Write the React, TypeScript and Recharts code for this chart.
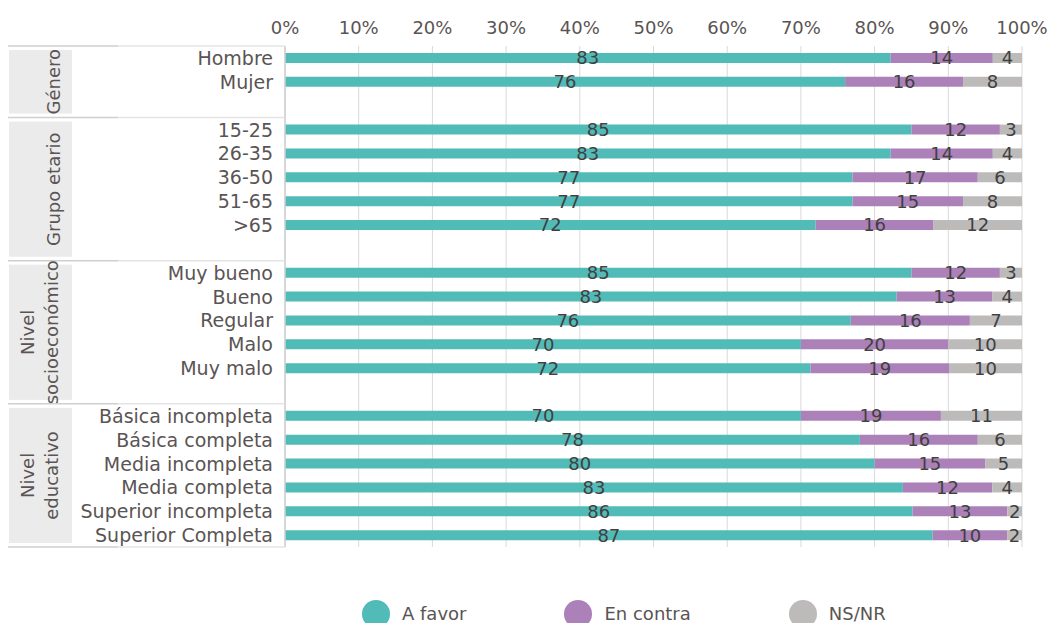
import React from 'react';
import { BarChart, Bar, XAxis, YAxis, CartesianGrid, LabelList, Legend } from 'recharts';

const categories = [
  'Hombre', 'Mujer',
  '15-25', '26-35', '36-50', '51-65', '>65',
  'Muy bueno', 'Bueno', 'Regular', 'Malo', 'Muy malo',
  'Básica incompleta', 'Básica completa', 'Media incompleta', 'Media completa', 'Superior incompleta', 'Superior Completa',
];
const aFavor = [83, 76, 85, 83, 77, 77, 72, 85, 83, 76, 70, 72, 70, 78, 80, 83, 86, 87];
const enContra = [14, 16, 12, 14, 17, 15, 16, 12, 13, 16, 20, 19, 19, 16, 15, 12, 13, 10];
const nsnr = [4, 8, 3, 4, 6, 8, 12, 3, 4, 7, 10, 10, 11, 6, 5, 4, 2, 2];
const groupLabels = [['Género'], ['Grupo etario'], ['Nivel', 'socioeconómico'], ['Nivel', 'educativo']];
const groupSizes = [2, 5, 5, 6];
const xTicks = [0, 0.1, 0.2, 0.3, 0.4, 0.5, 0.6, 0.7, 0.8, 0.9, 1];
const seriesNames = ['A favor', 'En contra', 'NS/NR'];

const COLORS = ['#51bbb8', '#ac80b8', '#bdbaba'];
const FONT = "'DejaVu Sans', sans-serif";
const W = 1049;
const H = 623;
const M_TOP = 16;
const X_AXIS_H = 30;
const Y_AXIS_W = 285;
const M_RIGHT = 27;
const LEGEND_H = 36;
const M_BOTTOM = 40;

type Row = {
  id: string;
  name: string;
  favor: number | null;
  contra: number | null;
  nsnr: number | null;
  group?: number;
  groupRows?: number;
  last?: boolean;
};

const rows: Row[] = [];
{
  let k = 0;
  groupSizes.forEach((size, g) => {
    const isLastGroup = g === groupSizes.length - 1;
    for (let i = 0; i < size; i++) {
      const r: Row = {
        id: 'r' + k,
        name: categories[k],
        favor: aFavor[k],
        contra: enContra[k],
        nsnr: nsnr[k],
      };
      if (i === 0) {
        r.group = g;
        r.groupRows = size + (isLastGroup ? 0 : 1);
      }
      rows.push(r);
      k++;
    }
    if (!isLastGroup) {
      rows.push({ id: 'gap' + g, name: '', favor: null, contra: null, nsnr: null });
    }
  });
  rows[rows.length - 1].last = true;
}

const PLOT_TOP = M_TOP + X_AXIS_H;
const PLOT_H = H - PLOT_TOP - M_BOTTOM - LEGEND_H;
const STEP = PLOT_H / rows.length;

const CategoryTick = (props: any) => {
  const { x, y, payload } = props;
  const row = rows.find((r) => r.id === payload.value);
  if (!row) return null;
  const els: React.ReactNode[] = [];
  els.push(
    <text key="t" x={x - 4} y={y} textAnchor="end" dominantBaseline="central" fontSize={19} fill="#5a5454" fontFamily={FONT}>
      {row.name}
    </text>
  );
  if (row.group !== undefined) {
    const top = y - STEP / 2;
    const bottom = top + (row.groupRows as number) * STEP;
    const lines = groupLabels[row.group];
    const cy = (top + bottom) / 2;
    els.push(<line key="d1" x1={8} x2={118} y1={top} y2={top} stroke="#cfcfcf" strokeWidth={1.5} />);
    els.push(<line key="d2" x1={118} x2={Y_AXIS_W} y1={top} y2={top} stroke="#e4e4e4" strokeWidth={1.5} />);
    els.push(<rect key="b" x={9} y={top + 4} width={63} height={bottom - top - 8} fill="#ebebeb" />);
    const xs = lines.length === 1 ? [54] : [28, 52];
    lines.forEach((ln, i) => {
      els.push(
        <text
          key={'g' + i}
          x={xs[i]}
          y={cy}
          transform={`rotate(-90 ${xs[i]} ${cy})`}
          textAnchor="middle"
          dominantBaseline="central"
          fontSize={18}
          fill="#5a5454"
          fontFamily={FONT}
        >
          {ln}
        </text>
      );
    });
  }
  if (row.last) {
    const b = y + STEP / 2;
    els.push(<line key="e1" x1={8} x2={118} y1={b} y2={b} stroke="#cfcfcf" strokeWidth={1.5} />);
    els.push(<line key="e2" x1={118} x2={Y_AXIS_W} y1={b} y2={b} stroke="#e4e4e4" strokeWidth={1.5} />);
  }
  return <g>{els}</g>;
};

const LegendContent = () => (
  <div style={{ display: 'flex', alignItems: 'flex-start', paddingLeft: 362, height: LEGEND_H, gap: 98 }}>
    {seriesNames.map((n, i) => (
      <div key={n} style={{ display: 'flex', alignItems: 'center', height: 28 }}>
        <svg width={28} height={28} style={{ display: 'block' }}>
          <circle cx={14} cy={14} r={14} fill={COLORS[i]} />
        </svg>
        <span style={{ marginLeft: 12, fontSize: 18, color: '#5a5454', fontFamily: FONT, lineHeight: '28px' }}>{n}</span>
      </div>
    ))}
  </div>
);

const fmtLabel = (v: any) => (v === null || v === undefined ? '' : v);

export default function App() {
  return (
    <div style={{ position: 'absolute', left: 0, top: 0, width: W, height: H, fontFamily: FONT, background: '#fff', overflow: 'hidden' }}>
      <BarChart
        width={W}
        height={H}
        data={rows}
        layout="vertical"
        stackOffset="expand"
        margin={{ top: M_TOP, right: M_RIGHT, left: 0, bottom: M_BOTTOM }}
        barCategoryGap={0}
      >
        <CartesianGrid horizontal={false} stroke="#d9d9d9" />
        <XAxis
          type="number"
          orientation="top"
          domain={[0, 1]}
          ticks={xTicks}
          height={X_AXIS_H}
          axisLine={false}
          tickLine={false}
          tickMargin={6}
          tickFormatter={(v: number) => Math.round(v * 100) + '%'}
          tick={{ fill: '#5a5454', fontSize: 18, fontFamily: FONT }}
          interval={0}
        />
        <YAxis
          type="category"
          dataKey="id"
          width={Y_AXIS_W}
          interval={0}
          axisLine={{ stroke: '#d0d0d0', strokeWidth: 1.5 }}
          tickLine={false}
          tick={<CategoryTick />}
        />
        <Legend
          verticalAlign="bottom"
          content={<LegendContent />}
          wrapperStyle={{ top: 600, left: 0, width: W, height: LEGEND_H }}
        />
        <Bar dataKey="favor" name="A favor" stackId="a" fill={COLORS[0]} barSize={10} isAnimationActive={false}>
          <LabelList dataKey="favor" position="center" fill="#404040" fontSize={18} fontFamily={FONT} formatter={fmtLabel} />
        </Bar>
        <Bar dataKey="contra" name="En contra" stackId="a" fill={COLORS[1]} barSize={10} isAnimationActive={false}>
          <LabelList dataKey="contra" position="center" fill="#404040" fontSize={18} fontFamily={FONT} formatter={fmtLabel} />
        </Bar>
        <Bar dataKey="nsnr" name="NS/NR" stackId="a" fill={COLORS[2]} barSize={10} isAnimationActive={false}>
          <LabelList dataKey="nsnr" position="center" fill="#404040" fontSize={18} fontFamily={FONT} formatter={fmtLabel} />
        </Bar>
      </BarChart>
    </div>
  );
}
